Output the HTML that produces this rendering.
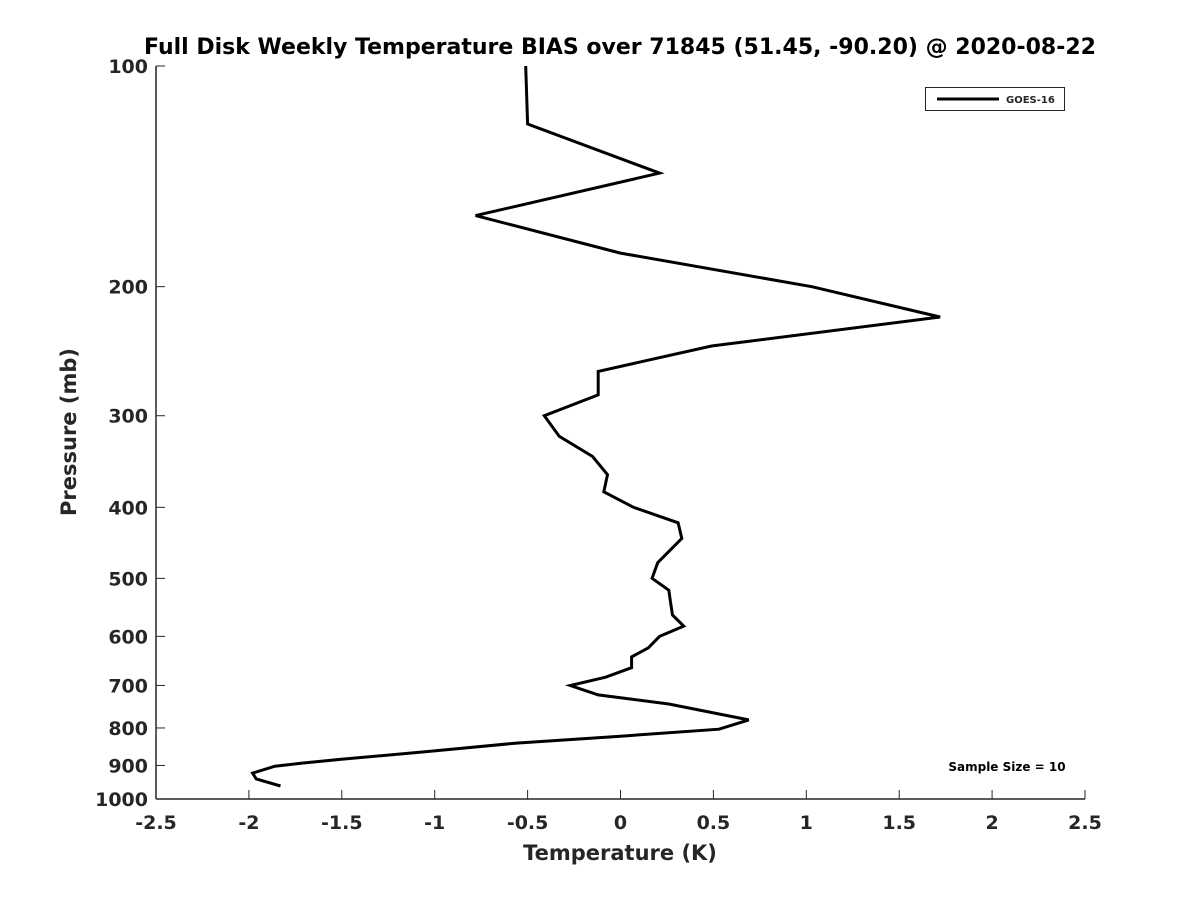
<!DOCTYPE html>
<html><head><meta charset="utf-8"><style>
body{margin:0;background:#fff;}
svg text{font-family:"DejaVu Sans","Liberation Sans",sans-serif;font-weight:bold;fill:#262626;}
</style></head><body>
<svg id="chart" width="1200" height="900">
<rect width="1200" height="900" fill="#fff"/>
<text x="620" y="54" font-size="22" text-anchor="middle" style="fill:#000">Full Disk Weekly Temperature BIAS over 71845 (51.45, -90.20) @ 2020-08-22</text>
<g id="axes"></g>
<path id="line" fill="none" stroke="#000" stroke-width="3" stroke-linejoin="miter"/>
<g>
<rect x="925.5" y="87.5" width="139" height="23" fill="#fff" stroke="#262626"/>
<line x1="937" y1="99" x2="999" y2="99" stroke="#000" stroke-width="3"/>
<text x="1006" y="103" font-size="10">GOES-16</text>
</g>
<text x="1007" y="771" font-size="12" text-anchor="middle" style="fill:#000">Sample Size = 10</text>
<text x="620" y="860" font-size="21" text-anchor="middle">Temperature (K)</text>
<text transform="translate(76,432) rotate(-90)" font-size="21" text-anchor="middle">Pressure (mb)</text>
</svg>
<script>
const xTicks=[-2.5,-2,-1.5,-1,-0.5,0,0.5,1,1.5,2,2.5];
const yTicks=[100,200,300,400,500,600,700,800,900,1000];
const pressures=[100,120,140,160,180,200,220,241,261,281,300,320,341,361,381,400,420,441,476,500,519,541,561,581,600,622,640,662,682,700,721,742,780,803,821,839,861,883,894,902,922,939,960];
const bias=[-0.51,-0.50,0.21,-0.78,0.0,1.03,1.72,0.49,-0.12,-0.12,-0.41,-0.33,-0.15,-0.07,-0.09,0.07,0.31,0.33,0.20,0.17,0.26,0.27,0.28,0.34,0.21,0.15,0.06,0.06,-0.08,-0.27,-0.12,0.26,0.69,0.53,0.0,-0.56,-1.03,-1.51,-1.72,-1.86,-1.98,-1.96,-1.83];
const X0=156,X1=1085,Y0=66,Y1=799;
const xs=v=>X0+(v+2.5)/5*(X1-X0);
const ys=p=>Y0+(Math.log10(p)-2)*(Y1-Y0);
const NS="http://www.w3.org/2000/svg";
const ax=document.getElementById('axes');
function mk(t,a){const e=document.createElementNS(NS,t);for(const k in a)e.setAttribute(k,a[k]);ax.appendChild(e);return e;}
let e=mk('line',{x1:X0,y1:Y1,x2:X1,y2:Y1,stroke:'#262626','stroke-width':1.5});


e=mk('line',{x1:X0,y1:Y0,x2:X0,y2:Y1,stroke:'#262626','stroke-width':1.5});


xTicks.forEach(v=>{const x=xs(v);
 let t=mk('line',{x1:x,y1:Y1,x2:x,y2:Y1-9,stroke:'#262626','stroke-width':1});
 
 
 let l=mk('text',{x:x,y:Y1+30,'font-size':19,'text-anchor':'middle'});l.textContent=String(v);
 
 });
yTicks.forEach(p=>{const y=ys(p);
 let t=mk('line',{x1:X0,y1:y,x2:X0+9,y2:y,stroke:'#262626','stroke-width':1});
 
 
 let l=mk('text',{x:X0-8,y:y+7,'font-size':19,'text-anchor':'end'});l.textContent=String(p);
 
 });
document.getElementById('line').setAttribute('d',pressures.map((p,i)=>(i?'L':'M')+xs(bias[i]).toFixed(1)+' '+ys(p).toFixed(1)).join(' '));
</script>
</body></html>
